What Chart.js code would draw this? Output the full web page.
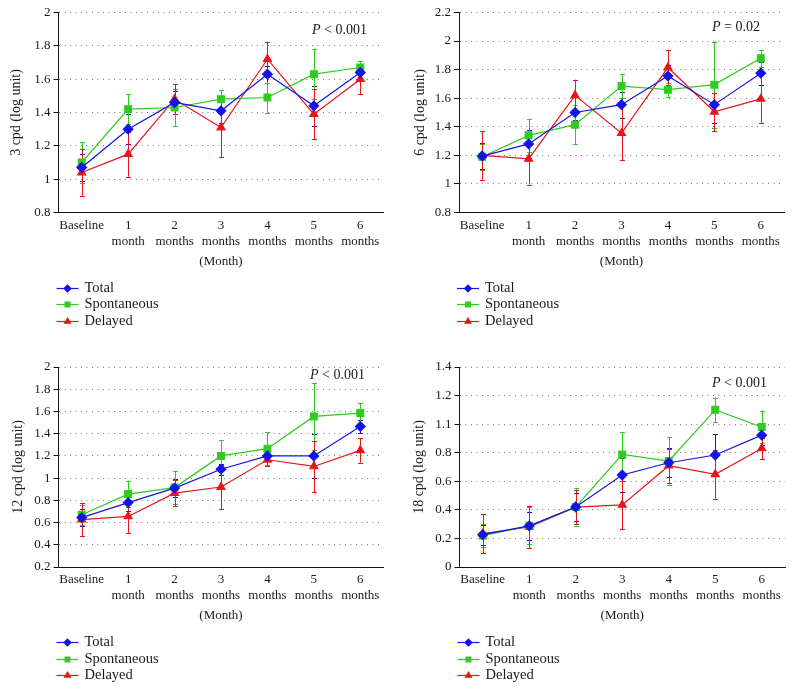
<!DOCTYPE html>
<html><head><meta charset="utf-8">
<script src="https://cdn.jsdelivr.net/npm/chart.js@4/dist/chart.umd.min.js"></script>
<style>
body{margin:0;background:#fff;width:794px;height:691px;position:relative;overflow:hidden}
canvas{position:absolute}
</style></head><body>
<canvas id="c1" width="397" height="345" style="left:0;top:0"></canvas>
<canvas id="c2" width="397" height="345" style="left:397px;top:0"></canvas>
<canvas id="c3" width="397" height="346" style="left:0;top:345px"></canvas>
<canvas id="c4" width="397" height="346" style="left:397px;top:345px"></canvas>
<script>
// ---- data ----
const categories = ['Baseline', ['1','month'], ['2','months'], ['3','months'], ['4','months'], ['5','months'], ['6','months']];
const seriesNames = ['Total', 'Spontaneous', 'Delayed'];
const xTitle = '(Month)';

// 3 cpd
const total3 = [1.07, 1.30, 1.46, 1.41, 1.63, 1.44, 1.64];
const spont3 = [1.10, 1.42, 1.43, 1.48, 1.49, 1.63, 1.67];
const delay3 = [1.04, 1.15, 1.48, 1.31, 1.72, 1.39, 1.60];
const totalErr3 = [0.08, 0.09, 0.07, 0.07, 0.05, 0.12, 0.05];
const spontErr3 = [0.12, 0.09, 0.11, 0.055, 0.09, 0.15, 0.04];
const delayErr3 = [0.14, 0.135, 0.09, 0.18, 0.105, 0.15, 0.09];
const yTicks3 = [0.8, 1, 1.2, 1.4, 1.6, 1.8, 2];
const yLabels3 = ['0.8', '1', '1.2', '1.4', '1.6', '1.8', '2'];

// 6 cpd
const total6 = [1.195, 1.28, 1.50, 1.555, 1.755, 1.555, 1.775];
const spont6 = [1.19, 1.34, 1.415, 1.685, 1.66, 1.695, 1.88];
const delay6 = [1.20, 1.175, 1.62, 1.355, 1.815, 1.505, 1.595];
const totalErr6 = [0.09, 0.10, 0.05, 0.09, 0.08, 0.13, 0.08];
const spontErr6 = [0.09, 0.115, 0.135, 0.085, 0.05, 0.30, 0.06];
const delayErr6 = [0.17, 0.18, 0.11, 0.19, 0.12, 0.135, 0.17];
const yTicks6 = [0.8, 1, 1.2, 1.4, 1.6, 1.8, 2, 2.2];
const yLabels6 = ['0.8', '1', '1.2', '1.4', '1.6', '1.8', '2', '2.2'];

// 12 cpd
const total12 = [0.645, 0.78, 0.91, 1.08, 1.20, 1.20, 1.465];
const spont12 = [0.67, 0.856, 0.915, 1.20, 1.265, 1.555, 1.585];
const delay12 = [0.627, 0.655, 0.865, 0.92, 1.165, 1.105, 1.25];
const totalErr12 = [0.08, 0.08, 0.08, 0.05, 0.04, 0.195, 0.06];
const spontErr12 = [0.09, 0.12, 0.15, 0.14, 0.15, 0.30, 0.09];
const delayErr12 = [0.15, 0.15, 0.12, 0.20, 0.06, 0.23, 0.11];
const yTicks12 = [0.2, 0.4, 0.6, 0.8, 1, 1.2, 1.4, 1.6, 1.8, 2];
const yLabels12 = ['0.2', '0.4', '0.6', '0.8', '1', '1.2', '1.4', '1.6', '1.8', '2'];

// 18 cpd
const total18 = [0.226, 0.288, 0.42, 0.644, 0.73, 0.784, 0.923];
const spont18 = [0.219, 0.288, 0.42, 0.788, 0.742, 1.10, 0.98];
const delay18 = [0.233, 0.28, 0.419, 0.435, 0.709, 0.649, 0.83];
const totalErr18 = [0.07, 0.10, 0.10, 0.12, 0.10, 0.145, 0.07];
const spontErr18 = [0.08, 0.13, 0.13, 0.155, 0.165, 0.085, 0.115];
const delayErr18 = [0.137, 0.15, 0.12, 0.17, 0.12, 0.17, 0.075];
const yTicks18 = [0, 0.2, 0.4, 0.6, 0.8, 1.0, 1.2, 1.4];
const yLabels18 = ['0', '0.2', '0.4', '0.6', '0.8', '1.1', '1.2', '1.4'];

// ---- styling ----
const FONT = "'Liberation Serif', 'DejaVu Serif', serif";
const colors = ['#1414e8', '#2ecc1e', '#e8141a'];
const styles = ['rectRot', 'rect', 'triangle'];
const radii = [4.8, 4.8, 4.6];

Chart.defaults.font.family = FONT;
Chart.defaults.color = '#1a1a1a';

const panels = [
  {id:'c1', yTitle:'3 cpd (log unit)', vals:[total3, spont3, delay3], errs:[totalErr3, spontErr3, delayErr3],
   ticks:yTicks3, labels:yLabels3, p:' < 0.001', pPos:[312, 30], pad:{left:0, right:13.5, top:12.5, bottom:72.5}, yw:58.5, tpad:8},
  {id:'c2', yTitle:'6 cpd (log unit)', vals:[total6, spont6, delay6], errs:[totalErr6, spontErr6, delayErr6],
   ticks:yTicks6, labels:yLabels6, p:' = 0.02', pPos:[315, 27], pad:{left:0, right:10, top:12.5, bottom:72.5}, yw:62, tpad:15},
  {id:'c3', yTitle:'12 cpd (log unit)', vals:[total12, spont12, delay12], errs:[totalErr12, spontErr12, delayErr12],
   ticks:yTicks12, labels:yLabels12, p:' < 0.001', pPos:[310, 30], pad:{left:0, right:13.5, top:22, bottom:64}, yw:58.5, tpad:10},
  {id:'c4', yTitle:'18 cpd (log unit)', vals:[total18, spont18, delay18], errs:[totalErr18, spontErr18, delayErr18],
   ticks:yTicks18, labels:yLabels18, p:' < 0.001', pPos:[315, 38], pad:{left:0, right:9, top:22, bottom:64}, yw:62.5, tpad:14}
];

const errorBarPlugin = {
  id: 'errorBars',
  beforeDatasetsDraw(chart) {
    const ctx = chart.ctx;
    const ys = chart.scales.y;
    chart.data.datasets.forEach((ds, di) => {
      const meta = chart.getDatasetMeta(di);
      ctx.save();
      ctx.strokeStyle = ds.borderColor;
      ctx.lineWidth = 1;
      meta.data.forEach((pt, i) => {
        const v = ds.data[i], e = ds.errors[i];
        const x = Math.round(pt.x) + 0.5;
        const yt = ys.getPixelForValue(v + e), yb = ys.getPixelForValue(v - e);
        ctx.beginPath();
        ctx.moveTo(x, yt); ctx.lineTo(x, yb);
        ctx.moveTo(x - 2.5, Math.round(yt) + 0.5); ctx.lineTo(x + 2.5, Math.round(yt) + 0.5);
        ctx.moveTo(x - 2.5, Math.round(yb) + 0.5); ctx.lineTo(x + 2.5, Math.round(yb) + 0.5);
        ctx.stroke();
      });
      ctx.restore();
    });
  }
};

const annotPlugin = {
  id: 'annot',
  afterDraw(chart, args, opts) {
    const ctx = chart.ctx;
    const a = chart.chartArea;
    ctx.save();
    // P value
    ctx.fillStyle = '#1a1a1a';
    ctx.textBaseline = 'middle';
    ctx.textAlign = 'left';
    ctx.font = 'italic 14px ' + FONT;
    ctx.fillText('P', opts.pPos[0], opts.pPos[1]);
    const w = ctx.measureText('P').width;
    ctx.font = '14px ' + FONT;
    ctx.fillText(opts.p, opts.pPos[0] + w, opts.pPos[1]);
    // legend
    const x0 = a.left - 2;
    chart.data.datasets.forEach((ds, i) => {
      const y = Math.round(a.bottom + 75 + i * 16.5) + 0.5;
      ctx.strokeStyle = ds.borderColor;
      ctx.fillStyle = ds.borderColor;
      ctx.lineWidth = 1.2;
      ctx.beginPath(); ctx.moveTo(x0, y); ctx.lineTo(x0 + 22, y); ctx.stroke();
      Chart.helpers.drawPoint(ctx, {pointStyle: ds.pointStyle, radius: 3.4, rotation: 0, borderWidth: 1}, x0 + 11, y);
      ctx.fillStyle = '#1a1a1a';
      ctx.font = '14.5px ' + FONT;
      ctx.fillText(ds.label, x0 + 28, y);
    });
    ctx.restore();
  }
};

panels.forEach(p => {
  const datasets = p.vals.map((v, i) => ({
    label: seriesNames[i],
    data: v,
    errors: p.errs[i],
    borderColor: colors[i],
    backgroundColor: colors[i],
    pointBackgroundColor: colors[i],
    pointBorderColor: colors[i],
    pointStyle: styles[i],
    pointRadius: radii[i],
    borderWidth: 1.2,
    tension: 0
  }));
  new Chart(document.getElementById(p.id), {
    type: 'line',
    data: { labels: categories, datasets },
    plugins: [errorBarPlugin, annotPlugin],
    options: {
      responsive: false,
      animation: false,
      devicePixelRatio: 1,
      layout: { padding: p.pad },
      plugins: {
        legend: { display: false },
        tooltip: { enabled: false },
        annot: { p: p.p, pPos: p.pPos }
      },
      scales: {
        x: {
          type: 'category',
          offset: true,
          grid: { display: false, drawTicks: false },
          border: { display: true, color: '#111', width: 1 },
          ticks: { font: { size: 13, lineHeight: 1.23 }, padding: 5, maxRotation: 0, autoSkip: false, color: '#1a1a1a' },
          title: { display: true, text: xTitle, font: { size: 13, lineHeight: 1.23 }, padding: { top: 0, bottom: 3 }, color: '#1a1a1a' },
          afterFit(s) { s.height = 60; }
        },
        y: {
          min: p.ticks[0],
          max: p.ticks[p.ticks.length - 1],
          afterBuildTicks(s) { s.ticks = p.ticks.map(v => ({ value: v })); },
          grid: { color: '#7a7a7a', lineWidth: 1, drawTicks: true, tickLength: 5, tickColor: '#111', tickBorderDash: [], tickWidth: 1 },
          border: { display: true, color: '#111', width: 1, dash: [1, 4.5] },
          ticks: {
            font: { size: 13 }, padding: 3, color: '#1a1a1a',
            callback(value, index) { return p.labels[index]; }
          },
          title: { display: true, text: p.yTitle, font: { size: 14, lineHeight: 1.2 }, padding: { top: p.tpad, bottom: 0 }, color: '#1a1a1a' },
          afterFit(s) { s.width = p.yw; }
        }
      }
    }
  });
});
</script>
</body></html>
